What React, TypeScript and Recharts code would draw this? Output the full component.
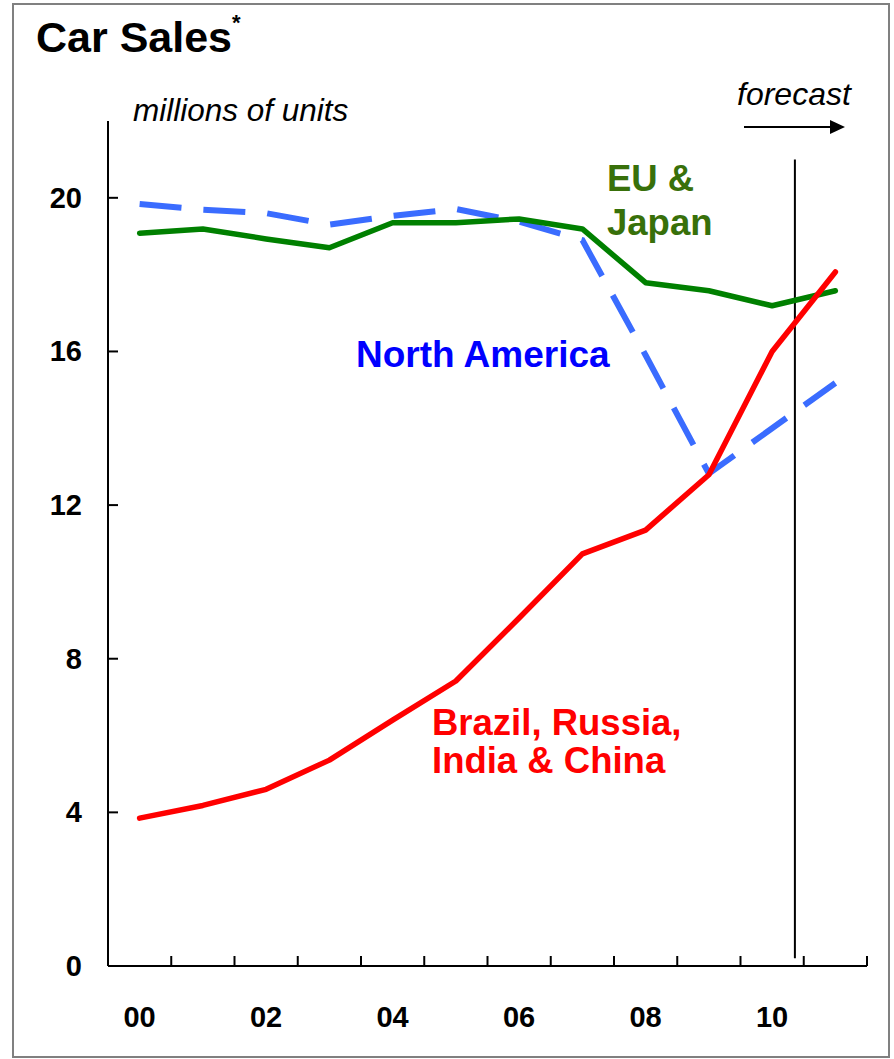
import React from 'react';
import { LineChart, Line, XAxis, YAxis, ReferenceLine } from 'recharts';

const years = ['00', '01', '02', '03', '04', '05', '06', '07', '08', '09', '10', '11'];
const bricValues = [3.85, 4.18, 4.6, 5.36, 6.4, 7.42, 9.06, 10.73, 11.35, 12.79, 16.0, 18.07];
const euJapanValues = [19.08, 19.19, 18.93, 18.7, 19.35, 19.35, 19.45, 19.19, 17.79, 17.58, 17.19, 17.58];
const northAmericaValues = [19.84, 19.69, 19.6, 19.3, 19.53, 19.71, 19.38, 18.9, 15.9, 12.82, 14.0, 15.18];
const yTicks = [0, 4, 8, 12, 16, 20];
const labelYears = [0, 2, 4, 6, 8, 10];
const forecastX = 10.36;
const forecastYRange = [0.2, 21];

const data = years.map((y, i) => ({
  idx: i,
  year: y,
  bric: bricValues[i],
  eu: euJapanValues[i],
  na: northAmericaValues[i],
}));

const xTicks: number[] = [];
for (let i = -0.5; i <= 11.5; i += 0.5) xTicks.push(i);

const FONT = '"Liberation Sans", Arial, Helvetica, sans-serif';

const XTick = (props: any) => {
  const { x, y, payload } = props;
  const v = payload.value;
  const isEdge = Math.abs(v - Math.round(v)) > 0.01;
  if (isEdge) {
    if (v < 0) return null;
    return <line x1={x} x2={x} y1={y} y2={y - 10} stroke="#000" strokeWidth={2} />;
  }
  const r = Math.round(v);
  if (!labelYears.includes(r)) return null;
  return (
    <text x={x} y={y + 61} textAnchor="middle" fontFamily={FONT} fontWeight="bold" fontSize={29} fill="#000">
      {years[r]}
    </text>
  );
};

const YTick = (props: any) => {
  const { x, y, payload } = props;
  return (
    <g>
      {payload.value !== 0 && (
        <line x1={x + 26} x2={x + 36} y1={y} y2={y} stroke="#000" strokeWidth={2} />
      )}
      <text x={x} y={y + 10} textAnchor="end" fontFamily={FONT} fontWeight="bold" fontSize={29} fill="#000">
        {payload.value}
      </text>
    </g>
  );
};

export default function App() {
  return (
    <div style={{ position: 'absolute', left: 0, top: 0, width: 894, height: 1059, background: '#fff' }}>
      <LineChart
        width={894}
        height={1059}
        data={data}
        margin={{ top: 121, right: 27, bottom: 0, left: 0 }}
      >
        <XAxis
          dataKey="idx"
          type="number"
          domain={[-0.5, 11.5]}
          ticks={xTicks}
          interval={0}
          tickLine={false}
          tickSize={0}
          tickMargin={0}
          axisLine={{ stroke: '#000', strokeWidth: 2 }}
          tick={<XTick />}
          height={93}
        />
        <YAxis
          type="number"
          domain={[0, 22]}
          ticks={yTicks}
          interval={0}
          width={108}
          tickLine={false}
          tickSize={0}
          tickMargin={26}
          axisLine={{ stroke: '#000', strokeWidth: 2 }}
          tick={<YTick />}
        />
        <ReferenceLine
          segment={[
            { x: forecastX, y: forecastYRange[0] },
            { x: forecastX, y: forecastYRange[1] },
          ]}
          stroke="#000"
          strokeWidth={2}
          ifOverflow="visible"
        />
        <Line
          dataKey="na"
          stroke="#3a6cff"
          strokeWidth={6}
          strokeDasharray="42 22"
          dot={false}
          isAnimationActive={false}
        />
        <Line
          dataKey="eu"
          stroke="#008000"
          strokeWidth={5.5}
          strokeLinecap="round"
          strokeLinejoin="round"
          dot={false}
          isAnimationActive={false}
        />
        <Line
          dataKey="bric"
          stroke="#ff0000"
          strokeWidth={5.5}
          strokeLinecap="round"
          strokeLinejoin="round"
          dot={false}
          isAnimationActive={false}
        />
      </LineChart>
      <svg
        width={894}
        height={1059}
        style={{ position: 'absolute', left: 0, top: 0, pointerEvents: 'none' }}
      >
        <rect x={13} y={4} width={876} height={1053} fill="none" stroke="#808080" strokeWidth={2} />
        <text x={36} y={52} fontFamily={FONT} fontWeight="bold" fontSize={43} fill="#000">
          Car Sales
          <tspan fontSize={22} dy={-22}>*</tspan>
        </text>
        <text x={133} y={121} fontFamily={FONT} fontStyle="italic" fontSize={31.5} fill="#000">
          millions of units
        </text>
        <text x={737} y={105} fontFamily={FONT} fontStyle="italic" fontSize={32} fill="#000">
          forecast
        </text>
        <line x1={744} x2={832} y1={127} y2={127} stroke="#000" strokeWidth={2} />
        <polygon points="830,120 845,127 830,134" fill="#000" />
        <text fontFamily={FONT} fontWeight="bold" fontSize={36.5} fill="#38700a">
          <tspan x={607} y={191}>EU &amp;</tspan>
          <tspan x={607} y={235}>Japan</tspan>
        </text>
        <text x={356} y={367} fontFamily={FONT} fontWeight="bold" fontSize={37} fill="#0000ff">
          North America
        </text>
        <text fontFamily={FONT} fontWeight="bold" fontSize={36.5} fill="#ff0000">
          <tspan x={432} y={735}>Brazil, Russia,</tspan>
          <tspan x={432} y={773}>India &amp; China</tspan>
        </text>
      </svg>
    </div>
  );
}
